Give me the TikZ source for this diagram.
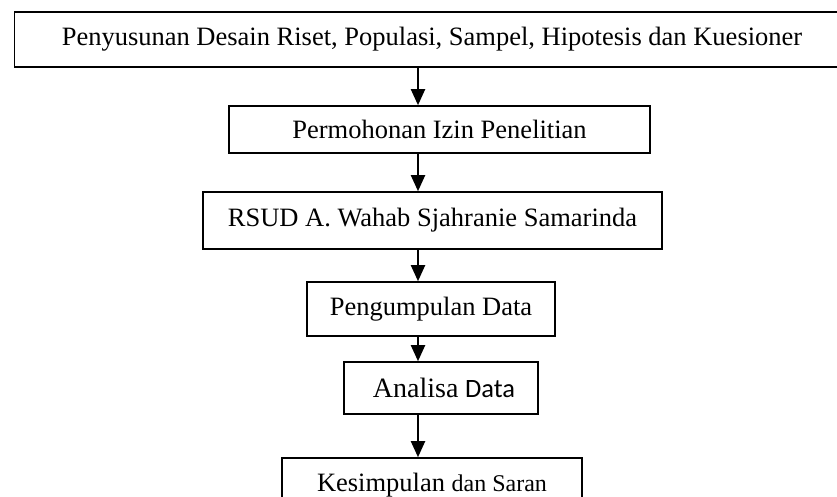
\documentclass[tikz,border=0pt]{standalone}
\usepackage{fontspec}
\setmainfont{Liberation Serif}
\newfontfamily\sansdata{Carlito}
\usepackage{tikz}
\usetikzlibrary{arrows.meta,positioning}

\tikzset{
  stage/.style={draw,line width=1.6pt,inner sep=0pt,font=\fontsize{26.5}{30}\selectfont},
  flow/.style={-{Triangle[width=14pt,length=16pt]},line width=2pt}
}

\begin{document}
\begin{tikzpicture}[x=1pt,y=-1pt]
  \useasboundingbox (0,0) rectangle (837,497);
  \clip (0,0) rectangle (837,497);
  \coordinate (spine) at (418,0);
  \node [stage,minimum width=835pt,minimum height=55pt] (desain) at (432,39.5) {Penyusunan Desain Riset, Populasi, Sampel, Hipotesis dan Kuesioner};
  \node [stage,minimum width=421pt,minimum height=47pt] (izin) at (439.5,129.5) {Permohonan Izin Penelitian};
  \node [stage,minimum width=459pt,minimum height=57pt] (rsud) at (432.5,220.5) {RSUD A. Wahab Sjahranie Samarinda};
  \node [stage,minimum width=248pt,minimum height=54pt] (kumpul) at (431,309) {Pengumpulan Data};
  \node [stage,minimum width=194pt,minimum height=52pt] (analisa) at (441,388) {\hspace{6pt}{\fontsize{28}{30}\selectfont Analisa} {\sansdata Data}};
  \node [stage,minimum width=300pt,minimum height=54pt] (simpul) at (432,485) {Kesimpulan {\fontsize{24}{28}\selectfont dan Saran}};
  \draw [flow] (desain.south -| spine) -- (izin.north -| spine);
  \draw [flow] (izin.south -| spine) -- (rsud.north -| spine);
  \draw [flow] (rsud.south -| spine) -- (kumpul.north -| spine);
  \draw [flow] (kumpul.south -| spine) -- (analisa.north -| spine);
  \draw [flow] (analisa.south -| spine) -- (simpul.north -| spine);
\end{tikzpicture}
\end{document}
